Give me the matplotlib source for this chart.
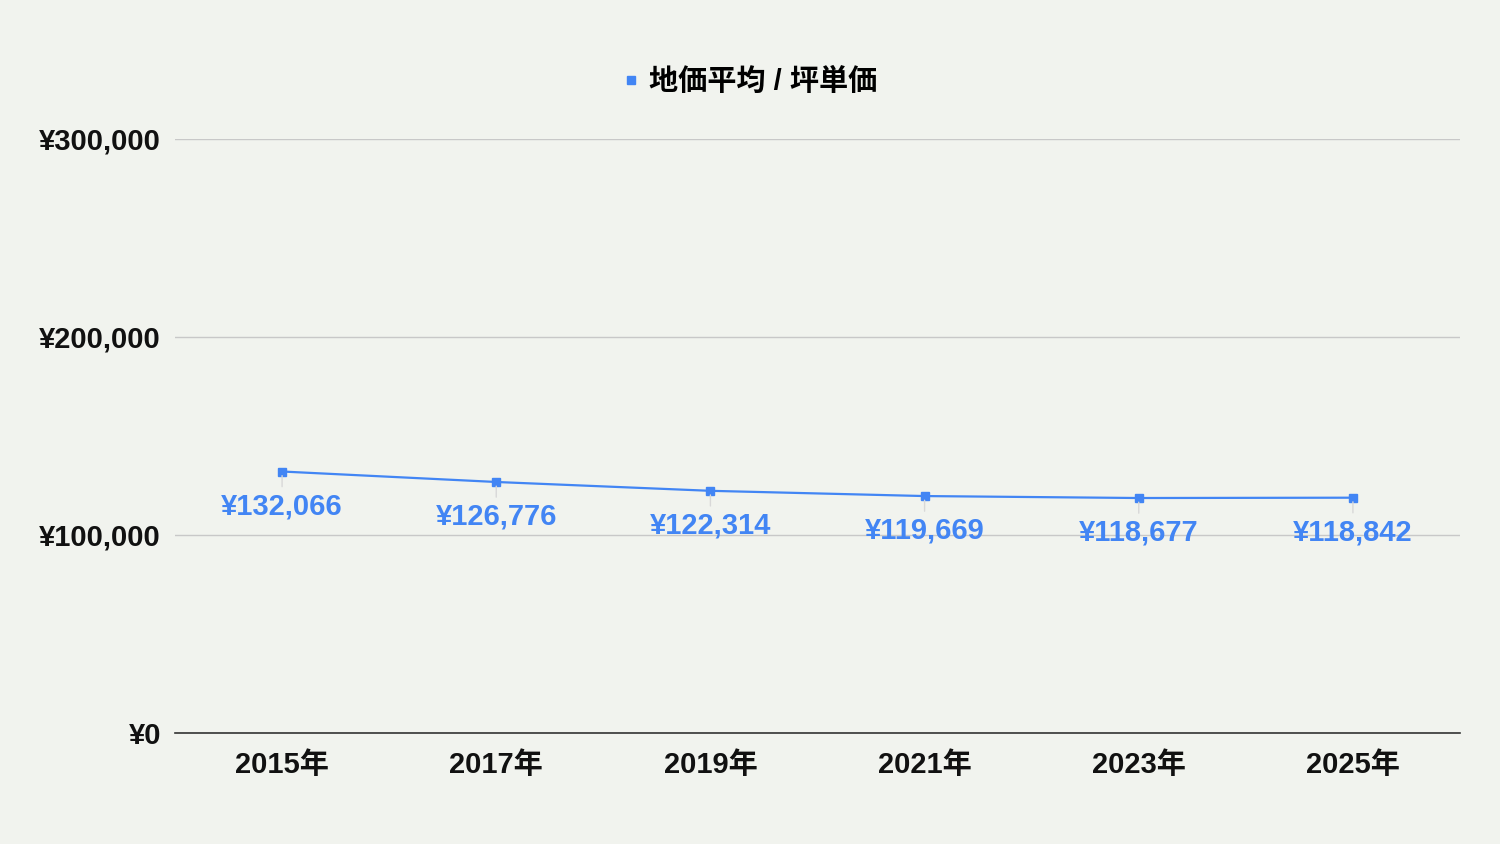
import matplotlib
matplotlib.use('Agg')
import matplotlib.pyplot as plt
from matplotlib.ticker import FuncFormatter

plt.rcParams['font.family'] = ['Liberation Sans', 'Noto Sans CJK JP', 'DejaVu Sans']

years = ['2015年', '2017年', '2019年', '2021年', '2023年', '2025年']
prices = [132066, 126776, 122314, 119669, 118677, 118842]
series_name = '地価平均 / 坪単価'

BG = '#f1f3ee'
BLUE = '#4285f4'

fig = plt.figure(figsize=(15, 8.44), dpi=100, facecolor=BG)
ax = fig.add_axes([175 / 1500, 1 - 733 / 844, (1460 - 175) / 1500, (733 - 139) / 844])
ax.set_facecolor(BG)

x = list(range(len(years)))
ax.plot(x, prices, color=BLUE, lw=1.6, marker='s', markersize=6, label=series_name, zorder=3)

# value labels under each point, with a faint leader line
for xi, v in zip(x, prices):
    ax.annotate('¥{:,}'.format(v), xy=(xi, v), xytext=(0, -25), textcoords='offset points',
                ha='center', va='center', fontsize=21, fontweight='bold', color=BLUE,
                arrowprops=dict(arrowstyle='-', color='#d8d8d8', lw=1, shrinkA=2, shrinkB=3),
                zorder=4)

ax.set_xlim(-0.5, len(years) - 0.5)
ax.set_ylim(0, 300000)
ax.set_yticks([0, 100000, 200000, 300000])
ax.yaxis.set_major_formatter(FuncFormatter(lambda v, p: '¥{:,.0f}'.format(v)))
ax.set_xticks(x)
ax.set_xticklabels(years)
ax.tick_params(axis='both', length=0, labelsize=21)
ax.tick_params(axis='y', pad=10)
ax.tick_params(axis='x', pad=13)
for lab in ax.get_xticklabels() + ax.get_yticklabels():
    lab.set_fontweight('bold')
    lab.set_color('#111111')

ax.grid(axis='y', color='#c8c8c8', lw=1)
ax.set_axisbelow(True)
for s in ['top', 'right', 'left']:
    ax.spines[s].set_visible(False)
ax.spines['bottom'].set_color('#333333')
ax.spines['bottom'].set_linewidth(1.2)

leg = fig.legend(handles=[plt.Line2D([], [], color=BLUE, marker='s', ls='', markersize=6)],
                 labels=[series_name], loc='center', bbox_to_anchor=(750 / 1500, 1 - 82 / 844),
                 frameon=False, handlelength=0.6, handletextpad=0.3,
                 prop={'size': 21, 'weight': 'bold'})

fig.savefig('out.png', dpi=100, facecolor=BG)
